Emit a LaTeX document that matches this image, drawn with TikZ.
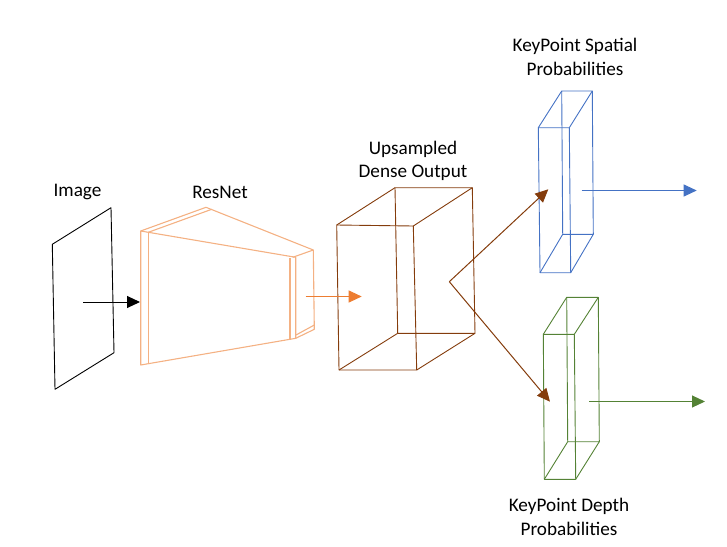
\documentclass[tikz,border=0pt]{standalone}
\usepackage{fontspec}
\setmainfont{Carlito}
\usetikzlibrary{arrows.meta}
\definecolor{resnetc}{HTML}{F4B183}
\definecolor{orangec}{HTML}{ED7D31}
\definecolor{brownc}{HTML}{843C0C}
\definecolor{bluec}{HTML}{4472C4}
\definecolor{greenc}{HTML}{548235}
\tikzset{
  lbl/.style={font=\fontsize{19.2}{23.5}\selectfont, align=center, inner sep=0pt},
  edge/.style={line width=0.9pt, line join=round},
  conn/.style={line width=1pt, -{Triangle[length=13pt,width=12pt]}},
}
\begin{document}
\begin{tikzpicture}[x=1pt,y=-1pt]
\useasboundingbox (0,0) rectangle (727,546);

% Image plane
\draw[edge, black] (52.3,244.3) -- (111,207.7) -- (114,352.7) -- (55,389.3) -- cycle;
\node[lbl] (limage) at (77.5,192) {Image};

% ResNet
\begin{scope}[edge, draw=resnetc, line width=1.1pt]
\draw (140.7,231) -- (295.7,257.3) -- (295.7,338.3) -- (140.7,365) -- cycle;
\draw (148.3,232.3) -- (148.3,363);
\draw (290,258) -- (290,340);
\draw (140.7,231) -- (206,207.3) -- (313.3,250) -- (292.7,257.3);
\draw (148.3,232.3) -- (211.7,209.3);
\draw (313.3,250) -- (314.3,329.3) -- (295.7,338.3);
\draw (296,335) -- (314.3,325);
\end{scope}
\node[lbl] (lresnet) at (220,192) {ResNet};

% Upsampled dense output
\begin{scope}[edge, draw=brownc]
\draw (336.7,225) -- (413.3,226) -- (416.7,370) -- (339,370) -- cycle;
\draw (395,187.7) -- (472.3,187.7) -- (475,333.3) -- (397.7,333.3) -- cycle;
\draw (336.7,225) -- (395,187.7);
\draw (413.3,226) -- (472.3,187.7);
\draw (416.7,370) -- (475,333.3);
\draw (339,370) -- (397.7,333.3);
\end{scope}
\node[lbl] (lups) at (413,161) {Upsampled\\Dense Output};

% Spatial (blue)
\begin{scope}[edge, draw=bluec]
\draw (538.3,127.7) -- (569.3,127.7) -- (570.7,272.7) -- (540,272.7) -- cycle;
\draw (561.7,91) -- (592.3,91) -- (593.3,234.3) -- (562.7,234.3) -- cycle;
\draw (538.3,127.7) -- (561.7,91);
\draw (569.3,127.7) -- (592.3,91);
\draw (570.7,272.7) -- (593.3,234.3);
\draw (540,272.7) -- (562.7,234.3);
\end{scope}
\node[lbl] (lspat) at (575,57) {KeyPoint Spatial\\Probabilities};

% Depth (green)
\begin{scope}[edge, draw=greenc]
\draw (543.3,334.3) -- (574.3,334.3) -- (575.7,479.3) -- (544.3,479.3) -- cycle;
\draw (566.7,297.3) -- (598.3,297.3) -- (599.3,441.7) -- (567.7,441.7) -- cycle;
\draw (543.3,334.3) -- (566.7,297.3);
\draw (574.3,334.3) -- (598.3,297.3);
\draw (575.7,479.3) -- (599.3,441.7);
\draw (544.3,479.3) -- (567.7,441.7);
\end{scope}
\node[lbl] (ldepth) at (569,517) {KeyPoint Depth\\Probabilities};

% connectors
\coordinate (a1s) at (83.3,302);
\coordinate (a1e) at (140,302);
\coordinate (a2s) at (305.5,296.5);
\coordinate (a2e) at (361.7,296.5);
\coordinate (fork) at (449.3,281.7);
\coordinate (a3e) at (548.3,189.3);
\coordinate (a4e) at (550,401.7);
\coordinate (b1s) at (581.7,190.5);
\coordinate (b1e) at (696.7,190.5);
\coordinate (g1s) at (589.3,401.5);
\coordinate (g1e) at (705,401.5);

\draw[conn, black] (a1s) -- (a1e);
\draw[conn, orangec] (a2s) -- (a2e);
\draw[conn, brownc] (fork) -- (a3e);
\draw[conn, brownc] (fork) -- (a4e);
\draw[conn, bluec] (b1s) -- (b1e);
\draw[conn, greenc] (g1s) -- (g1e);
\end{tikzpicture}
\end{document}
